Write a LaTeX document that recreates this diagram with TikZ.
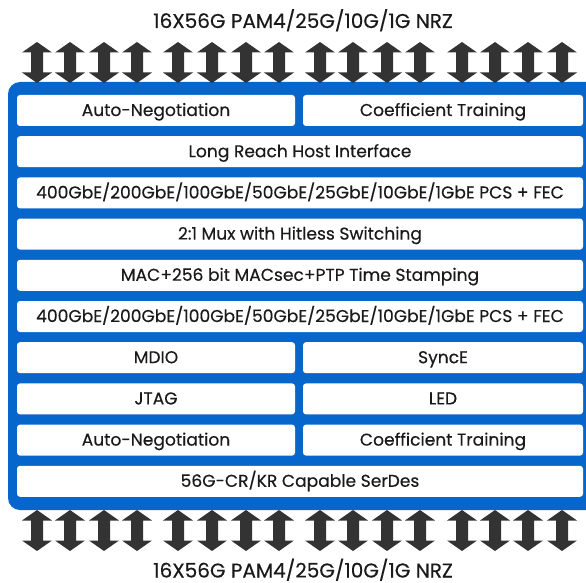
\documentclass[tikz,border=0pt]{standalone}
\usepackage{fontspec}
\setmainfont{Poppins}[FakeBold=0.35]
\definecolor{panelblue}{HTML}{0766CC}
\definecolor{arrowgray}{HTML}{333333}
\definecolor{textblack}{HTML}{1A1A1A}
\begin{document}
\begin{tikzpicture}[x=1pt,y=-1pt,
  blk/.style={fill=white, rounded corners=3pt, inner sep=0pt, text=textblack,
    font=\fontsize{17.1}{17.1}\selectfont, minimum height=31pt,
    text height=11pt, text depth=0pt},
  halfl/.style={blk, minimum width=278pt},
  halfr/.style={blk, minimum width=280pt},
  full/.style={blk, minimum width=566pt},
  title/.style={text=textblack, font=\fontsize{20}{20}\selectfont, inner sep=0pt,
    anchor=base, text depth=0pt},
  arr/.style={fill=arrowgray}]
\useasboundingbox (0,0) rectangle (586,583);
\clip (0,0) rectangle (586,583);
% panel
\fill[panelblue, rounded corners=12pt] (8,82) rectangle (640,510);
% rows
\node[halfl] (an1) at (156,110.5) {Auto-Negotiation};
\node[halfr] (ct1) at (443,110.5) {Coefficient Training};
\node[full] (lr) at (300,151.7) {Long Reach Host Interface};
\node[full] (pcs1) at (300,192.9) {400GbE/200GbE/100GbE/50GbE/25GbE/10GbE/1GbE PCS + FEC};
\node[full] (mux) at (300,234.1) {2:1 Mux with Hitless Switching};
\node[full] (mac) at (300,275.3) {MAC+256 bit MACsec+PTP Time Stamping};
\node[full] (pcs2) at (300,316.5) {400GbE/200GbE/100GbE/50GbE/25GbE/10GbE/1GbE PCS + FEC};
\node[halfl] (mdio) at (156,357.7) {MDIO};
\node[halfr] (sync) at (443,357.7) {SyncE};
\node[halfl] (jtag) at (156,398.9) {JTAG};
\node[halfr] (led) at (443,398.9) {LED};
\node[halfl] (an2) at (156,440.1) {Auto-Negotiation};
\node[halfr] (ct2) at (443,440.1) {Coefficient Training};
\node[full] (serdes) at (300,481.3) {56G-CR/KR Capable SerDes};
% titles
\node[title] (ttop) at (303,28) {16X56G PAM4/25G/10G/1G NRZ};
\node[title] (tbot) at (303,577.5) {16X56G PAM4/25G/10G/1G NRZ};
% arrows
\foreach \x in {37,70,104,137,178,212,246,279,320,353,387,420,462,495,528,562}{
  \foreach \ya/\yb in {42/83,510/551}{
    \fill[arr] (\x,\ya) -- (\x+15,\ya+10.5) -- (\x+6,\ya+10.5) -- (\x+6,\yb-10.5)
      -- (\x+15,\yb-10.5) -- (\x,\yb) -- (\x-15,\yb-10.5) -- (\x-6,\yb-10.5)
      -- (\x-6,\ya+10.5) -- (\x-15,\ya+10.5) -- cycle;
  }
}
\end{tikzpicture}
\end{document}
